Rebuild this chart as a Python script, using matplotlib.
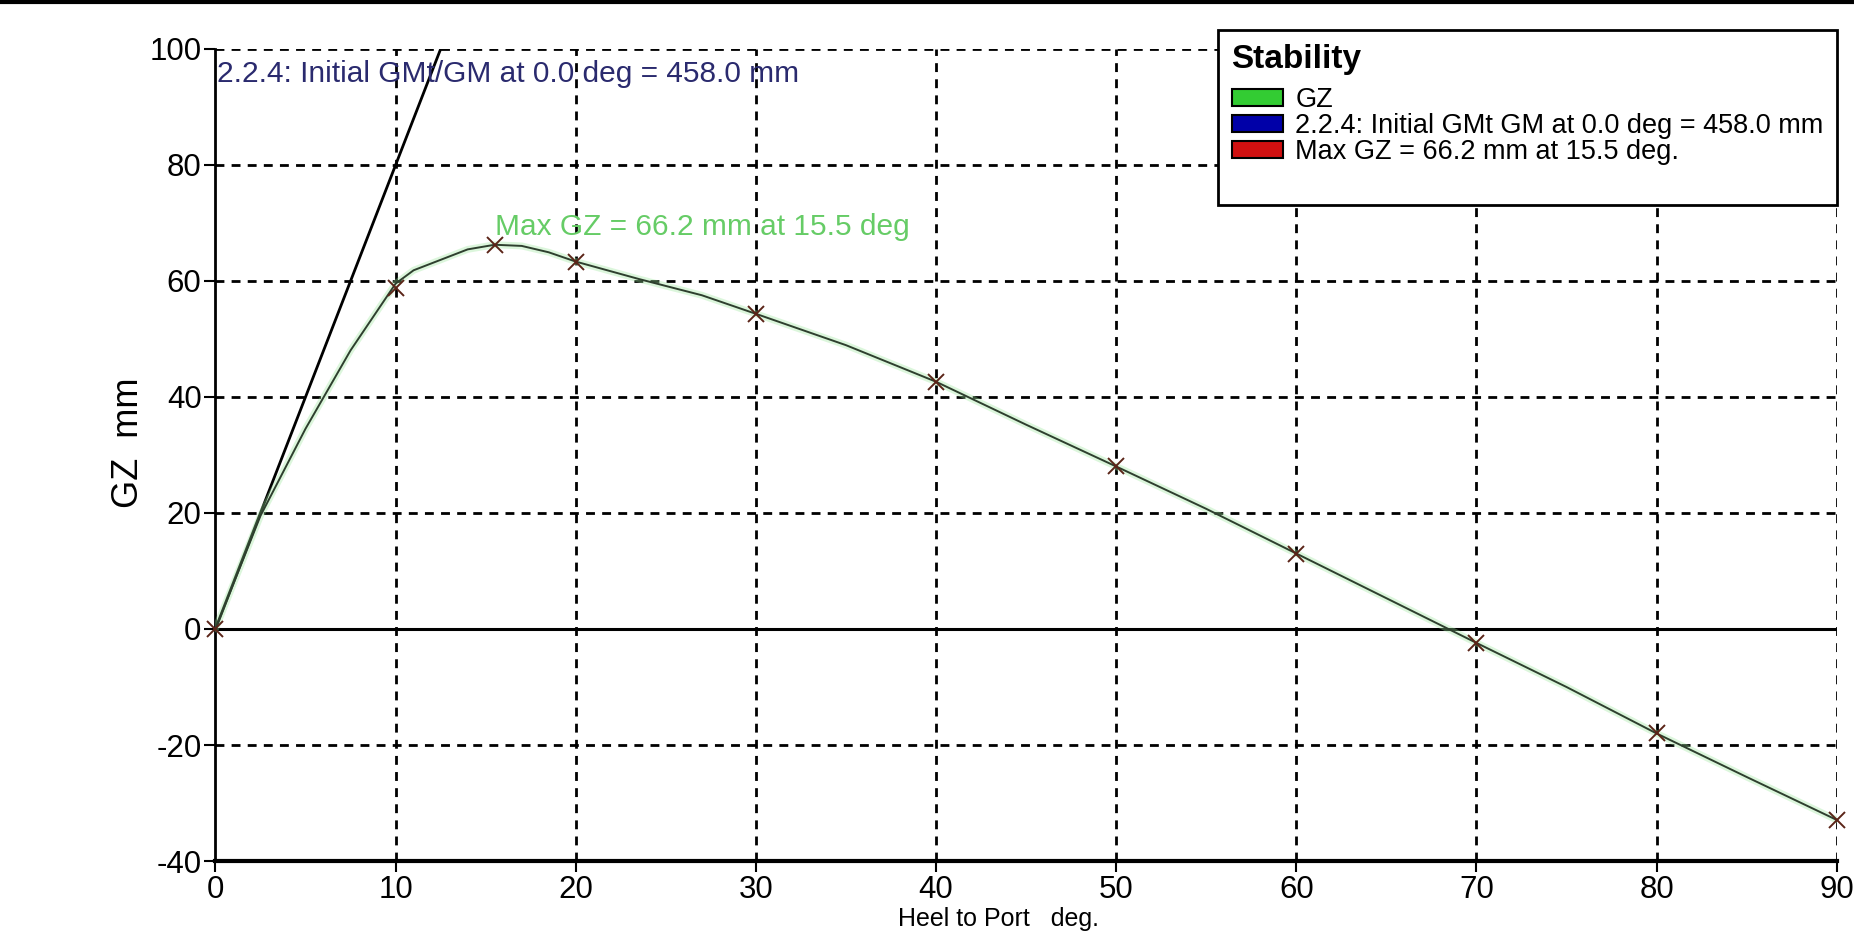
import numpy as np
import matplotlib.pyplot as plt
from matplotlib.patches import Patch
from matplotlib.lines import Line2D

plt.rcParams['font.family'] = ['Liberation Sans', 'DejaVu Sans']
plt.rcParams['axes.unicode_minus'] = False

# --- data -------------------------------------------------
heel = [0, 2.5, 5, 7.5, 10, 11, 12.5, 14, 15.5, 17, 18.5, 20, 23.5, 27, 30,
        35, 40, 45, 50, 55, 60, 65, 70, 75, 80, 85, 90]
gz = [0, 19.5, 34.5, 48, 59.5, 61.8, 63.6, 65.4, 66.2, 66.0, 64.9, 63.3, 60.3,
      57.5, 54.3, 48.9, 42.6, 35.2, 28.0, 20.7, 13.0, 5.3, -2.4, -10.0, -18.0,
      -25.5, -32.9]

heel_marks = [0, 10, 15.5, 20, 30, 40, 50, 60, 70, 80, 90]
gz_marks = [0, 58.7, 66.2, 63.3, 54.3, 42.6, 28.0, 13.0, -2.4, -18.0, -32.9]

# initial GM line: 458 mm at 1 rad (57.3 deg)
heel_gm = [0, 57.3]
gm_line = [0, 458.0]

xticks = [0, 10, 20, 30, 40, 50, 60, 70, 80, 90]
yticks = [-40, -20, 0, 20, 40, 60, 80, 100]

gm_text = '2.2.4: Initial GMt/GM at 0.0 deg = 458.0 mm'
max_text = 'Max GZ = 66.2 mm at 15.5 deg'
legend_labels = ['GZ', '2.2.4: Initial GMt GM at 0.0 deg = 458.0 mm',
                 'Max GZ = 66.2 mm at 15.5 deg.']
legend_colors = ['#33cc33', '#0000a8', '#d01010']

# --- figure ----------------------------------------------
fig = plt.figure(figsize=(18.54, 9.34), dpi=100)
ax = fig.add_axes([0.1162, 0.078, 0.8745, 0.870])

grid_kw = dict(color='black', lw=2.0, linestyle=(0, (3.2, 2.6)), zorder=1)
for xv in xticks[1:]:
    ax.axvline(xv, **grid_kw)
for yv in yticks[1:]:
    if yv != 0:
        ax.axhline(yv, **grid_kw)
ax.axhline(0, color='black', lw=2.2, zorder=2)

ax.plot(heel_gm, gm_line, color='black', lw=2.0, zorder=3)

ax.plot(heel, gz, color='#9be89b', lw=5, alpha=0.35, zorder=3, solid_capstyle='round')
ax.plot(heel, gz, color='#2e3f2e', lw=1.4, zorder=4)
ax.plot(heel_marks, gz_marks, linestyle='none', marker='x', ms=11, mew=1.4,
        color='#5b2418', zorder=5, clip_on=False)

ax.text(0.1, 94.3, gm_text, color='#2a2a6e', fontsize=21.5, ha='left', va='baseline', zorder=6)
ax.text(15.5, 67.8, max_text, color='#66cc66', fontsize=21.5, ha='left', va='baseline', zorder=6)

ax.set_xlim(0, 90)
ax.set_ylim(-40, 100)
ax.set_xticks(xticks)
ax.set_yticks(yticks)
ax.tick_params(axis='both', direction='out', length=8, width=1.5, labelsize=22.5, pad=2)

for s in ['top', 'right']:
    ax.spines[s].set_visible(False)
ax.spines['left'].set_linewidth(2.0)
ax.spines['bottom'].set_linewidth(3.0)

ax.set_xlabel('Heel to Port   deg.', fontsize=18)
ax.set_ylabel('GZ  mm', fontsize=26)
ax.xaxis.set_label_coords(0.483, -0.057)
ax.yaxis.set_label_coords(-0.043, 0.515)

# legend: three swatches plus a blank row for the empty space at the bottom
handles = [Patch(facecolor=c, edgecolor='black', lw=1.5) for c in legend_colors]
handles.append(Patch(facecolor='none', edgecolor='none'))
leg = fig.legend(handles, legend_labels + [' '], title='Stability', loc='upper left',
                 bbox_to_anchor=(1218 / 1854, 1 - 30 / 934), borderaxespad=0,
                 fontsize=19.5, title_fontproperties={'weight': 'bold', 'size': 24},
                 frameon=True, fancybox=False, framealpha=1, edgecolor='black',
                 handlelength=1.9, handleheight=0.6, labelspacing=0.0,
                 borderpad=0.5, handletextpad=0.45)
leg._legend_box.align = 'left'
leg._legend_box.sep = 9
leg.get_frame().set_linewidth(2.0)

fig.add_artist(Line2D([0, 1], [0.998, 0.998], transform=fig.transFigure,
                      color='black', lw=3))

fig.savefig('out.png', dpi=100)
